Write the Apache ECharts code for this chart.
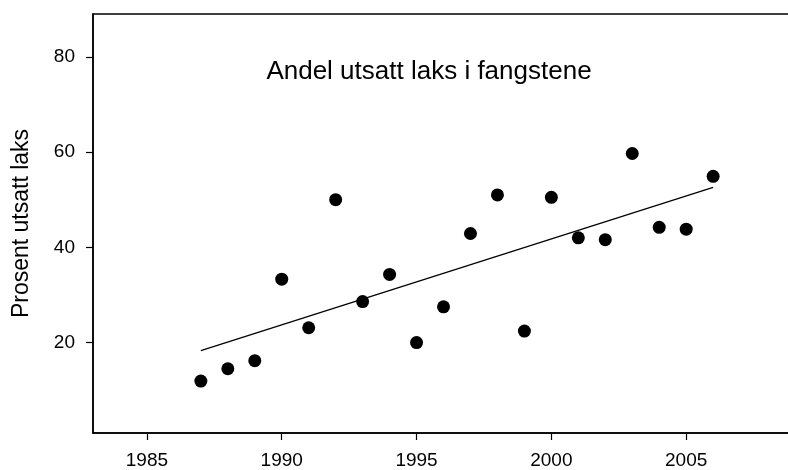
<!DOCTYPE html>
<html>
<head>
<meta charset="utf-8">
<script src="https://cdn.jsdelivr.net/npm/echarts@6/dist/echarts.min.js"></script>
<style>
  html, body { margin: 0; padding: 0; background: #fff; }
  #chart { width: 788px; height: 470px; }
</style>
</head>
<body>
<div id="chart"></div>
<script>
// Share of stocked salmon in the catches, per year
var years = [1987, 1988, 1989, 1990, 1991, 1992, 1993, 1994, 1995, 1996,
             1997, 1998, 1999, 2000, 2001, 2002, 2003, 2004, 2005, 2006];
var percent = [11.9, 14.5, 16.2, 33.3, 23.1, 50.0, 28.6, 34.3, 20.0, 27.5,
               42.9, 51.0, 22.4, 50.5, 42.0, 41.6, 59.7, 44.2, 43.8, 54.9];

// Fitted trend line, end points
var trendYears = [1987, 2006];
var trendValues = [18.3, 52.6];

var xTicks = [1985, 1990, 1995, 2000, 2005];
var yTicks = [20, 40, 60, 80];

var FONT = '"Liberation Sans", Arial, Helvetica, sans-serif';

var points = years.map(function (y, i) { return [y, percent[i]]; });
var trend = trendYears.map(function (y, i) { return [y, trendValues[i]]; });

var chart = echarts.init(document.getElementById('chart'), null, { renderer: 'canvas' });

chart.setOption({
  animation: false,
  backgroundColor: '#fff',
  grid: {
    left: 93, top: 14, width: 728, height: 419,
    outerBoundsMode: 'none',
    containLabel: false,
    show: true, borderColor: '#000', borderWidth: 1.5, backgroundColor: 'transparent'
  },
  graphic: [{
    type: 'text',
    x: 429, y: 72,
    style: {
      text: 'Andel utsatt laks i fangstene',
      fill: '#000',
      font: '26px ' + FONT,
      textAlign: 'center',
      textVerticalAlign: 'middle'
    }
  }],
  xAxis: {
    type: 'value',
    min: 1983, max: 2010,
    axisLine: { show: true, lineStyle: { color: '#000', width: 1.5 } },
    axisTick: { show: true, inside: false, length: 7, customValues: xTicks,
                lineStyle: { color: '#000', width: 1.2 } },
    axisLabel: { customValues: xTicks, margin: 18, color: '#000', fontSize: 19,
                 fontFamily: FONT, formatter: function (v) { return String(v); } },
    splitLine: { show: false }
  },
  yAxis: {
    type: 'value',
    min: 1, max: 89,
    name: 'Prosent utsatt laks',
    nameLocation: 'middle',
    nameGap: 60,
    nameTextStyle: { color: '#000', fontSize: 23, fontFamily: FONT },
    axisLine: { show: true, lineStyle: { color: '#000', width: 1.5 } },
    axisTick: { show: true, inside: false, length: 7, customValues: yTicks,
                lineStyle: { color: '#000', width: 1.2 } },
    axisLabel: { customValues: yTicks, margin: 18, color: '#000', fontSize: 19,
                 fontFamily: FONT },
    splitLine: { show: false }
  },
  series: [
    {
      type: 'line',
      data: trend,
      symbol: 'none',
      lineStyle: { color: '#000', width: 1.2 },
      z: 2
    },
    {
      type: 'scatter',
      data: points,
      symbol: 'circle',
      symbolSize: 13,
      itemStyle: { color: '#000', opacity: 1 },
      z: 3
    }
  ]
});
</script>
</body>
</html>
